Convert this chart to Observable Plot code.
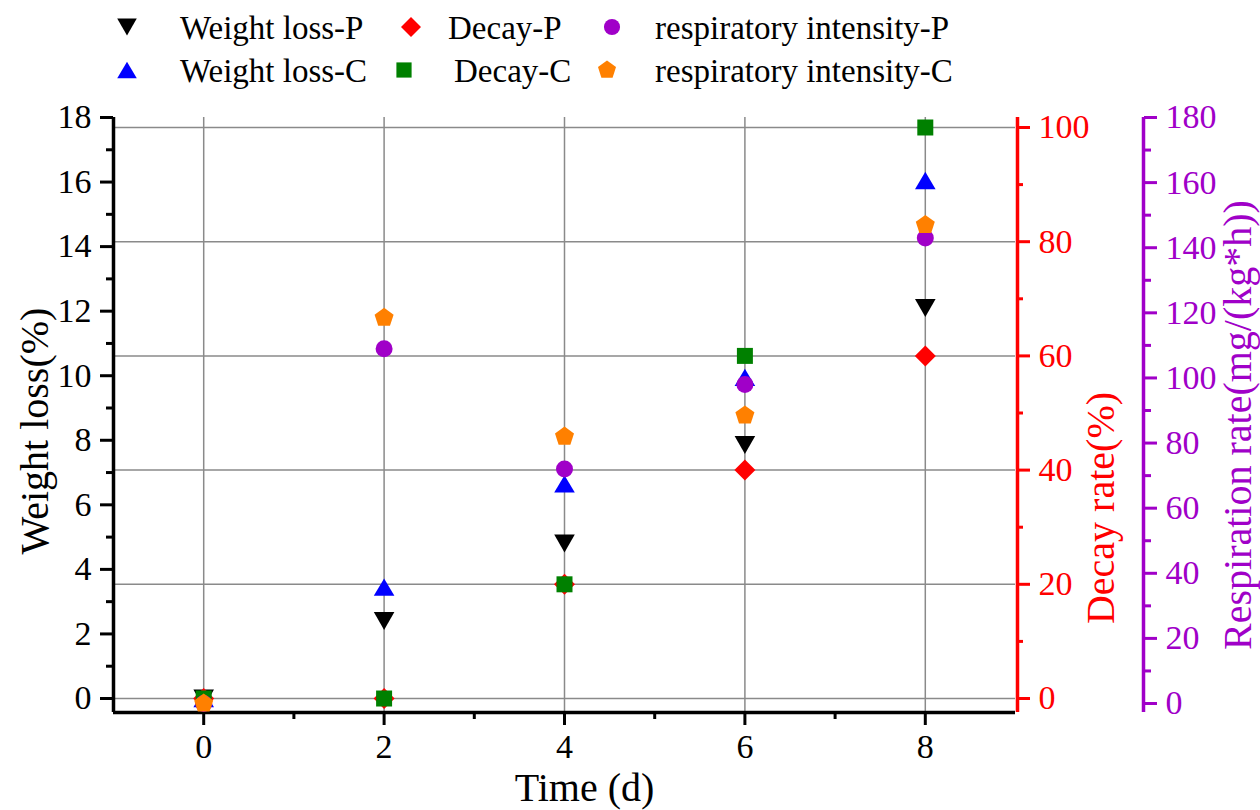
<!DOCTYPE html>
<html><head><meta charset="utf-8">
<script src="https://cdn.jsdelivr.net/npm/d3@7"></script>
<script src="https://cdn.jsdelivr.net/npm/@observablehq/plot@0.6"></script>
<style>
body{margin:0;background:#fff;}
#chart{position:relative;width:1260px;height:810px;font-family:"Liberation Serif","Times New Roman",serif;}
#chart text{font-family:"Liberation Serif","Times New Roman",serif;}
</style></head><body><div id="chart"></div>
<script>
// ---- data ----
const times = [0, 2, 4, 6, 8];
const weightLossP = [0, 2.4, 4.8, 7.85, 12.1];
const weightLossC = [0, 3.45, 6.65, 9.95, 16.05];
const decayP = [0, 0, 20, 40, 60];
const decayC = [0, 0, 20, 60, 100];
const respirationP = [0, 109, 72, 98, 143];
const respirationC = [0, 118.5, 82, 88.5, 147];

const xTicks = [0, 2, 4, 6, 8];
const xMinorTicks = [1, 3, 5, 7];
const weightTicks = [0, 2, 4, 6, 8, 10, 12, 14, 16, 18];
const weightMinorTicks = [1, 3, 5, 7, 9, 11, 13, 15, 17];
const decayTicks = [0, 20, 40, 60, 80, 100];
const decayMinorTicks = [10, 30, 50, 70, 90];
const respTicks = [0, 20, 40, 60, 80, 100, 120, 140, 160, 180];
const respMinorTicks = [10, 30, 50, 70, 90, 110, 130, 150, 170];

const legendRows = [
  ["Weight loss-P", "Decay-P", "respiratory intensity-P"],
  ["Weight loss-C", "Decay-C", "respiratory intensity-C"]
];

// ---- style ----
const PURPLE = "#A000C8";
const COLORS = {wP: "#000000", wC: "#0000FF", dP: "#FF0000", dC: "#008000", rP: PURPLE, rC: "#FF8000"};
const W = 1260, H = 810;
const M = {top: 117, bottom: 98, left: 113, right: 245};
const xDomain = [-1, 9];
const weightDomain = [-0.434, 18];
const decayDomain = [-2.45, 101.75];
const respDomain = [-2.76, 180];
const FONT = '"Liberation Serif","Times New Roman",serif';
const TICKFS = 34;
const TITLEFS = 40;

// ---- symbols ----
function rad(s) { return Math.sqrt(s / Math.PI); }
const SYM = {
  down: {draw(c, s) { const r = rad(s), w = r * 1.03, h = r * 0.9; c.moveTo(-w, -h); c.lineTo(w, -h); c.lineTo(0, h); c.closePath(); }},
  up: {draw(c, s) { const r = rad(s), w = r * 1.03, h = r * 0.87; c.moveTo(-w, h); c.lineTo(w, h); c.lineTo(0, -h); c.closePath(); }},
  diamond: {draw(c, s) { const r = rad(s) * 1.05; c.moveTo(0, -r); c.lineTo(r, 0); c.lineTo(0, r); c.lineTo(-r, 0); c.closePath(); }},
  square: {draw(c, s) { const r = rad(s) * 0.8; c.moveTo(-r, -r); c.lineTo(r, -r); c.lineTo(r, r); c.lineTo(-r, r); c.closePath(); }},
  circle: {draw(c, s) { const r = rad(s) * 0.85; c.moveTo(r, 0); c.arc(0, 0, r, 0, 2 * Math.PI); }},
  pentagon: {draw(c, s) { const R = rad(s); for (let k = 0; k < 5; k++) { const a = (-90 + 72 * k) * Math.PI / 180; const px = R * Math.cos(a), py = R * Math.sin(a); if (k === 0) c.moveTo(px, py); else c.lineTo(px, py); } c.closePath(); }}
};

const table = (vals) => times.map((t, i) => ({t, v: vals[i]}));

function base(yDomain, marks) {
  return Plot.plot({
    width: W, height: H,
    marginTop: M.top, marginBottom: M.bottom, marginLeft: M.left, marginRight: M.right,
    x: {domain: xDomain, axis: null},
    y: {domain: yDomain, axis: null},
    style: {position: "absolute", left: "0px", top: "0px", background: "transparent", fontFamily: FONT, fontSize: TICKFS + "px", color: "black", maxWidth: "none"},
    marks
  });
}

const chart = document.getElementById("chart");
const dotOpts = (sym, color) => ({x: "t", y: "v", symbol: sym, r: 10, fill: color, stroke: "none"});
const tickText = {fontSize: TICKFS, fontFamily: FONT, fontVariant: "normal"};

// Layer 0: grid
chart.appendChild(base(decayDomain, [
  Plot.gridX(xTicks, {stroke: "#8a8a8a", strokeOpacity: 1, strokeWidth: 1.5}),
  Plot.gridY(decayTicks, {stroke: "#8a8a8a", strokeOpacity: 1, strokeWidth: 1.5})
]));

// Layer 1: weight loss (left axis, bottom axis)
chart.appendChild(base(weightDomain, [
  Plot.axisY(weightTicks, {anchor: "left", tickSize: 13, tickPadding: 9, strokeWidth: 3, label: null, ...tickText}),
  Plot.axisY(weightMinorTicks, {anchor: "left", tickSize: 7, tickFormat: () => "", strokeWidth: 3, label: null}),
  Plot.axisX(xTicks, {anchor: "bottom", tickSize: 13, tickPadding: 8, strokeWidth: 3, label: null, ...tickText}),
  Plot.axisX(xMinorTicks, {anchor: "bottom", tickSize: 7, tickFormat: () => "", strokeWidth: 3, label: null}),
  Plot.ruleX([xDomain[0]], {stroke: "black", strokeWidth: 3.5}),
  Plot.ruleY([weightDomain[0]], {stroke: "black", strokeWidth: 3.5}),
  Plot.text(["Time (d)"], {frameAnchor: "bottom", textAnchor: "middle", lineAnchor: "middle", dx: 20, dy: 76, fontSize: TITLEFS, fontFamily: FONT, fill: "black"}),
  Plot.text(["Weight loss(%)"], {frameAnchor: "left", textAnchor: "middle", lineAnchor: "middle", dx: -78, dy: 16, rotate: -90, fontSize: TITLEFS, fontFamily: FONT, fill: "black"}),
  Plot.dot(table(weightLossP), dotOpts(SYM.down, COLORS.wP)),
  Plot.dot(table(weightLossC), dotOpts(SYM.up, COLORS.wC))
]));

// Layer 2: decay (red right axis)
chart.appendChild(base(decayDomain, [
  Plot.axisY(decayTicks, {anchor: "right", tickSize: 14, tickPadding: 9, strokeWidth: 3, color: "#FF0000", label: null, ...tickText}),
  Plot.axisY(decayMinorTicks, {anchor: "right", tickSize: 7, tickFormat: () => "", strokeWidth: 3, color: "#FF0000", label: null}),
  Plot.ruleX([xDomain[1]], {stroke: "#FF0000", strokeWidth: 3.5, dx: 2}),
  Plot.text(["Decay rate(%)"], {frameAnchor: "right", textAnchor: "middle", lineAnchor: "middle", dx: 86, dy: 93, rotate: -90, fontSize: TITLEFS, fontFamily: FONT, fill: "#FF0000"}),
  Plot.dot(table(decayP), dotOpts(SYM.diamond, COLORS.dP)),
  Plot.dot(table(decayC), dotOpts(SYM.square, COLORS.dC))
]));

// Layer 3: respiration (purple offset axis)
chart.appendChild(base(respDomain, [
  Plot.axisY(respTicks, {anchor: "right", dx: 128, tickSize: 13, tickPadding: 9, strokeWidth: 3, color: PURPLE, label: null, ...tickText}),
  Plot.axisY(respMinorTicks, {anchor: "right", dx: 128, tickSize: 7, tickFormat: () => "", strokeWidth: 3, color: PURPLE, label: null}),
  Plot.ruleX([xDomain[1]], {stroke: PURPLE, strokeWidth: 3.5, dx: 128}),
  Plot.text(["Respiration rate(mg/(kg*h))"], {frameAnchor: "right", textAnchor: "middle", lineAnchor: "middle", dx: 223, dy: 10, rotate: -90, fontSize: TITLEFS, fontFamily: FONT, fill: PURPLE}),
  Plot.dot(table(respirationP), dotOpts(SYM.circle, COLORS.rP)),
  Plot.dot(table(respirationC), dotOpts(SYM.pentagon, COLORS.rC))
]));

// Legend (above the plot area)
const legSyms = [[SYM.down, SYM.diamond, SYM.circle], [SYM.up, SYM.square, SYM.pentagon]];
const legCols = [[COLORS.wP, COLORS.dP, COLORS.rP], [COLORS.wC, COLORS.dC, COLORS.rC]];
const legSymX = [[127, 411, 612], [127, 404, 607]];
const legTextX = [[180, 448, 655], [180, 454, 655]];
const legRowY = [27, 70];
const leg = d3.create("svg").attr("width", W).attr("height", 100)
  .style("position", "absolute").style("left", "0px").style("top", "0px").style("overflow", "visible");
legendRows.forEach((row, ri) => {
  row.forEach((name, ci) => {
    const p = d3.path();
    legSyms[ri][ci].draw(p, Math.PI * 9.5 * 9.5);
    leg.append("path").attr("d", p.toString()).attr("fill", legCols[ri][ci])
      .attr("transform", `translate(${legSymX[ri][ci]},${legRowY[ri]})`);
    leg.append("text").attr("x", legTextX[ri][ci]).attr("y", legRowY[ri]).attr("dy", "0.35em")
      .attr("font-family", FONT).attr("font-size", 33).attr("fill", "black").text(name);
  });
});
chart.appendChild(leg.node());
</script>
</body></html>
